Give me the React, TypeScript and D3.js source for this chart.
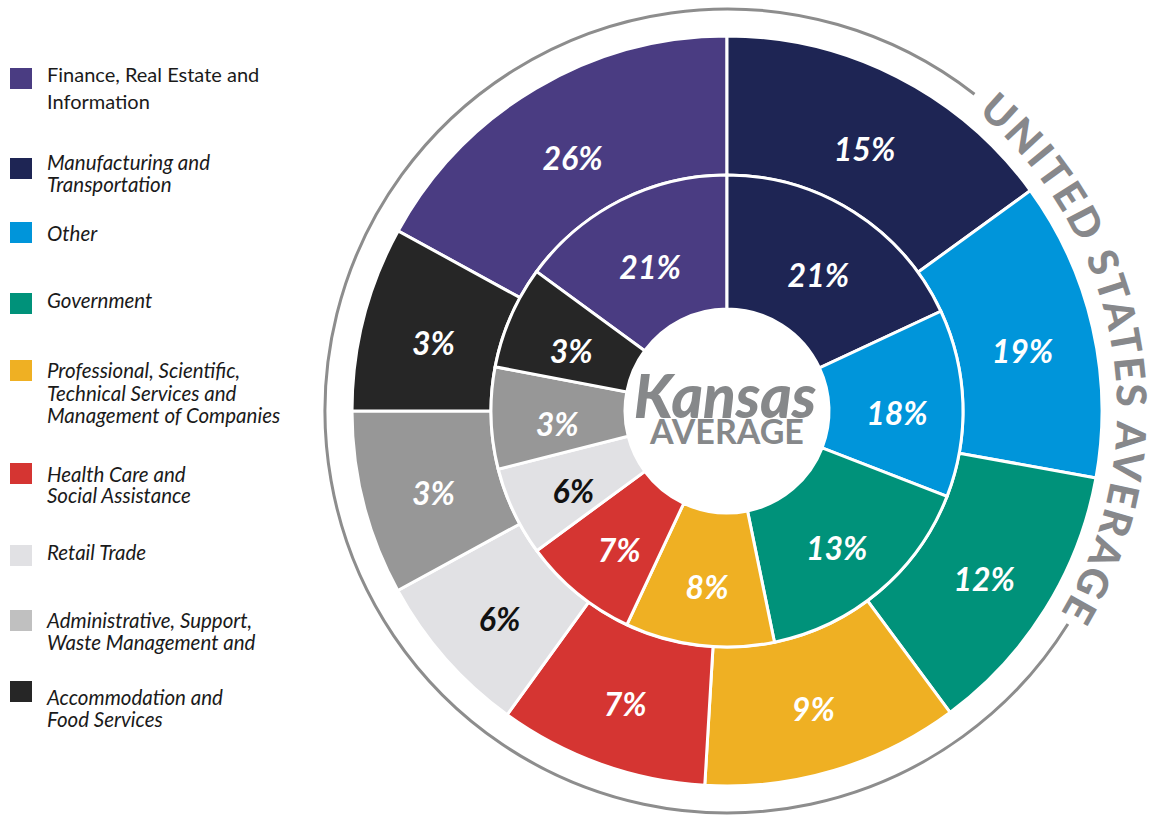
import React from 'react';
import * as d3 from 'd3';

// sectors, in legend order
const categories = [
  'Finance, Real Estate and Information',
  'Manufacturing and Transportation',
  'Other',
  'Government',
  'Professional, Scientific, Technical Services and Management of Companies',
  'Health Care and Social Assistance',
  'Retail Trade',
  'Administrative, Support, Waste Management and',
  'Accommodation and Food Services',
];

// the legend wraps its labels like this
const legendLines = [
  ['Finance, Real Estate and', 'Information'],
  ['Manufacturing and', 'Transportation'],
  ['Other'],
  ['Government'],
  ['Professional, Scientific,', 'Technical Services and', 'Management of Companies'],
  ['Health Care and', 'Social Assistance'],
  ['Retail Trade'],
  ['Administrative, Support,', 'Waste Management and'],
  ['Accommodation and', 'Food Services'],
];

// printed percentages
const usValues = [26, 15, 19, 12, 9, 7, 6, 3, 3];
const kansasValues = [21, 21, 18, 13, 8, 7, 6, 3, 3];

// the infographic does not draw slices in proportion: these are the
// angular shares (degrees)
const usDrawnShare = [61.3, 54, 46.3, 43.2, 39.9, 32.5, 25.5, 28.6, 28.7];
const kansasDrawnShare = [53.8, 65, 46.2, 57.2, 36.7, 28.6, 22, 25.1, 25.4];

const colors = ['#4a3c82', '#1e2554', '#0095da', '#00927a', '#efb023', '#d53532', '#e1e1e4', '#979797', '#262626'];
const legendColors = ['#4a3c82', '#1e2554', '#0095da', '#00927a', '#efb023', '#d53532', '#e1e1e4', '#c0c0c0', '#262626'];
const labelColors = ['#fff', '#fff', '#fff', '#fff', '#fff', '#fff', '#111', '#fff', '#fff'];

const W = 1151;
const H = 816;
const cx = 727;
const cy = 411;
const r0 = 102;
const r1 = 236;
const r2 = 375;
const rGray = 402;

// legend layout
const legendTop = [68, 158, 222, 293, 360, 463, 545, 610, 681];
const legendBase = [82, 170, 241, 308, 378, 482, 560, 628, 705];
const legendLead = [27, 22, 22, 22, 22.5, 21, 22, 22, 22];

const rad = (deg: number) => (deg * Math.PI) / 180;

function ring(shares: number[]) {
  const total = d3.sum(shares);
  const start = -(shares[0] / total) * 2 * Math.PI;
  return d3
    .pie<number>()
    .sort(null)
    .value((d) => d)
    .startAngle(start)
    .endAngle(start + 2 * Math.PI)(shares);
}

export default function App() {
  const innerArcs = ring(kansasDrawnShare);
  const outerArcs = ring(usDrawnShare);

  const innerArc = d3.arc<d3.PieArcDatum<number>>().innerRadius(r0).outerRadius(r1);
  const outerArc = d3.arc<d3.PieArcDatum<number>>().innerRadius(r1).outerRadius(r2);
  const innerLabel = d3.arc<d3.PieArcDatum<number>>().innerRadius(170).outerRadius(170);
  const outerLabel = d3.arc<d3.PieArcDatum<number>>().innerRadius(303).outerRadius(303);
  const labelShift = 8;

  // gray ring with a gap for the title on the right
  const gray = d3.path();
  gray.arc(0, 0, rGray, rad(122 - 90), rad(398 - 90));

  // path the title runs along
  const rText = 390;
  const pt = (deg: number) => [rText * Math.sin(rad(deg)), -rText * Math.cos(rad(deg))];
  const [ax, ay] = pt(40);
  const [bx, by] = pt(119.5);
  const titlePath = `M${ax},${ay} A${rText},${rText} 0 0 1 ${bx},${by}`;

  const pctFont = { fontFamily: 'Lato, sans-serif', fontWeight: 700, fontStyle: 'italic', fontSize: 32 } as const;

  return (
    <svg width={W} height={H} style={{ position: 'absolute', left: 0, top: 0, background: '#fff' }}>
      <g className="legend" fontFamily="Lato, sans-serif" fontSize={20.5} fill="#1a1a1a">
        {categories.map((c, i) => (
          <g key={c}>
            <rect x={10} y={legendTop[i]} width={22} height={21} fill={legendColors[i]} />
            <text x={47} y={legendBase[i]} fontStyle={i === 0 ? 'normal' : 'italic'} fontSize={i === 0 ? 20 : 20.5}>
              {legendLines[i].map((l, j) => (
                <tspan key={j} x={47} y={legendBase[i] + j * legendLead[i]}>
                  {l}
                </tspan>
              ))}
            </text>
          </g>
        ))}
      </g>

      <g transform={`translate(${cx},${cy})`}>
        <path d={gray.toString()} fill="none" stroke="#8d8d8d" strokeWidth={3} />
        <defs>
          <path id="us-title" d={titlePath} />
        </defs>
        <text fill="#87888b" fontFamily="Lato, sans-serif" fontWeight={900} fontSize={41}>
          <textPath href="#us-title" textLength={552} lengthAdjust="spacing">
            UNITED STATES AVERAGE
          </textPath>
        </text>

        {outerArcs.map((a, i) => (
          <path key={'o' + i} d={outerArc(a) || ''} fill={colors[i]} stroke="#fff" strokeWidth={3} />
        ))}
        {innerArcs.map((a, i) => (
          <path key={'i' + i} d={innerArc(a) || ''} fill={colors[i]} stroke="#fff" strokeWidth={3} />
        ))}
        <circle r={r0 - 1} fill="#fff" />

        {outerArcs.map((a, i) => {
          const [x, y] = outerLabel.centroid(a);
          return (
            <text key={'ol' + i} x={x} y={y + labelShift} dy="0.36em" textAnchor="middle" fill={labelColors[i]} {...pctFont}>
              {usValues[i]}%
            </text>
          );
        })}
        {innerArcs.map((a, i) => {
          const [x, y] = innerLabel.centroid(a);
          return (
            <text key={'il' + i} x={x} y={y + labelShift} dy="0.36em" textAnchor="middle" fill={labelColors[i]} {...pctFont}>
              {kansasValues[i]}%
            </text>
          );
        })}

        <text x={-2} y={7} textAnchor="middle" fill="#86888a" fontFamily="Lato, sans-serif" fontWeight={900} fontStyle="italic" fontSize={60}>
          Kansas
        </text>
        <text x={0} y={33} textAnchor="middle" fill="#86888a" fontFamily="Lato, sans-serif" fontWeight={700} fontSize={34}>
          AVERAGE
        </text>
      </g>
    </svg>
  );
}
